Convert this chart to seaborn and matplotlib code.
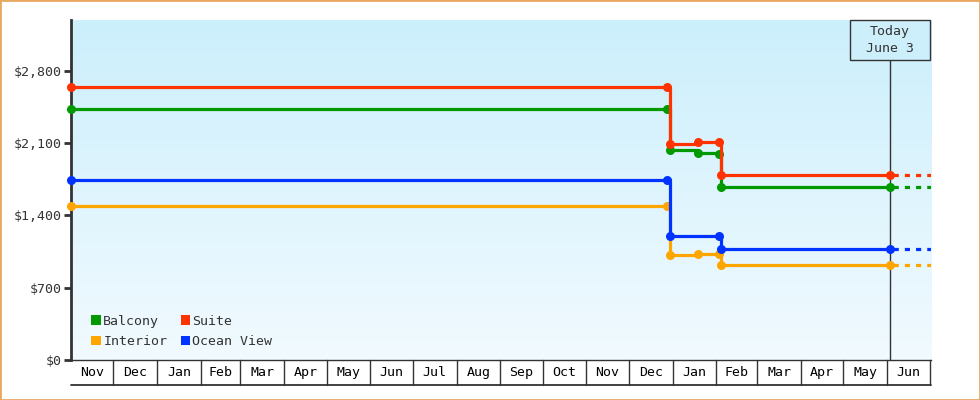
import numpy as np
import pandas as pd
import matplotlib
matplotlib.use("Agg")
import matplotlib.pyplot as plt
import matplotlib.dates as mdates
from matplotlib.patches import Patch, Rectangle
import seaborn as sns

# ----------------------------------------------------------------
# Data
# ----------------------------------------------------------------
series_names = ["Balcony", "Suite", "Interior", "Ocean View"]
series_colors = ["#009900", "#ff3300", "#ffa500", "#0033ff"]

balcony_dates = ["2022-11-01", "2023-12-28", "2023-12-30", "2024-01-19", "2024-02-03", "2024-02-04", "2024-06-03"]
balcony_prices = [2430, 2430, 2028, 2005, 1995, 1677, 1677]

suite_dates = ["2022-11-01", "2023-12-28", "2023-12-30", "2024-01-19", "2024-02-03", "2024-02-04", "2024-06-03"]
suite_prices = [2639, 2639, 2092, 2114, 2114, 1793, 1793]

interior_dates = ["2022-11-01", "2023-12-28", "2023-12-30", "2024-01-19", "2024-02-03", "2024-02-04", "2024-06-03"]
interior_prices = [1487, 1487, 1020, 1030, 1030, 924, 924]

ocean_dates = ["2022-11-01", "2023-12-28", "2023-12-30", "2024-02-03", "2024-02-04", "2024-06-03"]
ocean_prices = [1738, 1738, 1197, 1197, 1078, 1078]

y_ticks = [0, 700, 1400, 2100, 2800]
today = "2024-06-03"
today_label = "Today\nJune 3"
x_start, x_end = "2022-11-01", "2024-07-02"

# ----------------------------------------------------------------
# Style
# ----------------------------------------------------------------
sns.set_style("white")
plt.rcParams["font.family"] = ["DejaVu Sans Mono"]
DARK = "#333333"
FS = 9.5

fig = plt.figure(figsize=(9.8, 4), dpi=100)
fig.patch.set_facecolor("white")
ax = fig.add_axes([71 / 980, 40 / 400, 860 / 980, 340 / 400])

x0, x1 = mdates.date2num(pd.Timestamp(x_start)), mdates.date2num(pd.Timestamp(x_end))
y_top = 3290
ax.set_xlim(x0, x1)
ax.set_ylim(0, y_top)

# gradient background
top_c = np.array([204, 239, 252]) / 255
bot_c = np.array([241, 250, 255]) / 255
grad = np.linspace(0, 1, 100)[:, None, None]
img = top_c * (1 - grad) + bot_c * grad
ax.imshow(img, extent=[0, 1, 0, 1], transform=ax.transAxes, aspect="auto", zorder=0)

# ----------------------------------------------------------------
# Lines
# ----------------------------------------------------------------
all_dates = [balcony_dates, suite_dates, interior_dates, ocean_dates]
all_prices = [balcony_prices, suite_prices, interior_prices, ocean_prices]
for name, color, d, p in zip(series_names, series_colors, all_dates, all_prices):
    df = pd.DataFrame({"date": pd.to_datetime(d), "price": p})
    sns.lineplot(data=df, x="date", y="price", ax=ax, color=color, linewidth=2.3,
                 drawstyle="steps-post", marker="o", markersize=6.5, markeredgewidth=0,
                 estimator=None, sort=False, zorder=3, clip_on=False)
    # projection of the current price up to the end of the axis
    proj = pd.DataFrame({"date": pd.to_datetime([today, x_end]), "price": [p[-1], p[-1]]})
    sns.lineplot(data=proj, x="date", y="price", ax=ax, color=color, linewidth=2.3,
                 linestyle=(2.5, (1.6, 1.9)), estimator=None, zorder=3)

ax.set_xlim(x0, x1)
ax.set_ylim(0, y_top)

# ----------------------------------------------------------------
# Axes
# ----------------------------------------------------------------
for s in ["top", "right"]:
    ax.spines[s].set_visible(False)
ax.spines["left"].set_color(DARK)
ax.spines["left"].set_linewidth(2)
ax.spines["bottom"].set_color(DARK)
ax.spines["bottom"].set_linewidth(1)
ax.set_yticks(y_ticks)
ax.set_yticklabels([f"${v:,}" for v in y_ticks], fontsize=FS, color=DARK)
ax.tick_params(axis="y", direction="out", length=5, width=2, color=DARK, pad=2, left=True)
ax.set_xticks([])
ax.set_xlabel("")
ax.set_ylabel("")
ax.grid(False)

# month cells below the axis
xt = ax.get_xaxis_transform()
cell_h = 25 / 340
months = pd.date_range("2022-11-01", "2024-07-01", freq="MS")
for a, b in zip(months[:-1], months[1:]):
    na, nb = mdates.date2num(a), mdates.date2num(b)
    ax.plot([nb, nb], [0, -cell_h], transform=xt, color=DARK, lw=1, clip_on=False)
    ax.text((na + nb) / 2, -cell_h / 2, a.strftime("%b"), transform=xt,
            ha="center", va="center", fontsize=FS, color="black")
ax.plot([x0, x1], [-cell_h, -cell_h], transform=xt, color=DARK, lw=1.3, clip_on=False)

# today marker
t = mdates.date2num(pd.Timestamp(today))
box_h = 40 / 340
box_w = 80 / 860 * (x1 - x0)
ax.plot([t, t], [0, 1 - box_h], transform=xt, color=DARK, lw=1, zorder=2)
ax.add_patch(Rectangle((t - box_w / 2, 1 - box_h), box_w, box_h, transform=xt,
                       facecolor="#cdeffc", edgecolor=DARK, lw=1, zorder=4, clip_on=False))
ax.text(t, 1 - box_h / 2, today_label, transform=xt, ha="center", va="center",
        fontsize=FS, color=DARK, linespacing=1.3, zorder=5)

# legend
order = [0, 2, 1, 3]
handles = [Patch(facecolor=series_colors[i], edgecolor="none", label=series_names[i]) for i in order]
ax.legend(handles=handles, ncol=2, loc="lower left", bbox_to_anchor=(0.01, 0.0),
          frameon=False, fontsize=FS, handlelength=0.75, handleheight=0.75,
          handletextpad=0.15, columnspacing=1.0, labelspacing=0.55, labelcolor=DARK)

# orange frame
fig.patches.append(Rectangle((0, 0), 1, 1, transform=fig.transFigure, fill=False,
                             edgecolor="#e8a860", lw=2, figure=fig))

fig.savefig("out.png", dpi=100)
